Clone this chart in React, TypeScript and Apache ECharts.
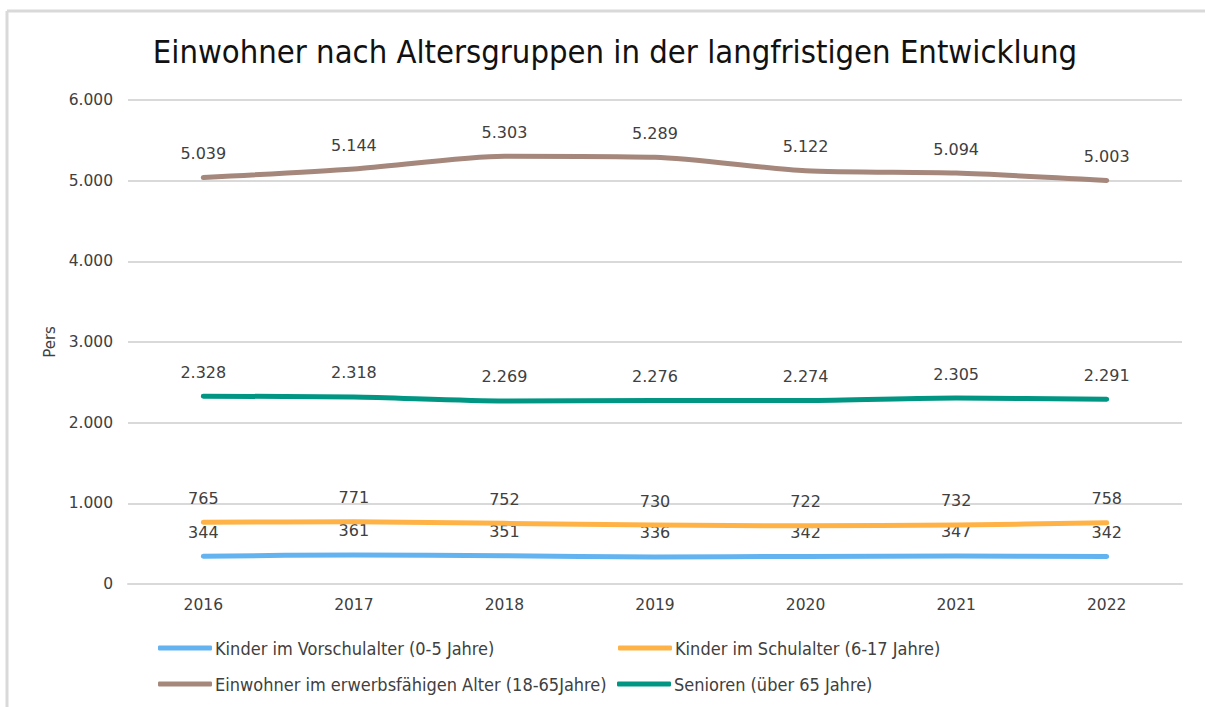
import React, { useEffect, useRef } from "react";
import * as echarts from "echarts";

const title = "Einwohner nach Altersgruppen in der langfristigen Entwicklung";
const years = ["2016", "2017", "2018", "2019", "2020", "2021", "2022"];
const yTicks = [0, 1000, 2000, 3000, 4000, 5000, 6000];
const seriesNames = [
  "Kinder im Vorschulalter (0-5 Jahre)",
  "Kinder im Schulalter (6-17 Jahre)",
  "Einwohner im erwerbsfähigen Alter (18-65Jahre)",
  "Senioren (über 65 Jahre)",
];
const vorschule = [344, 361, 351, 336, 342, 347, 342];
const schule = [765, 771, 752, 730, 722, 732, 758];
const erwerb = [5039, 5144, 5303, 5289, 5122, 5094, 5003];
const senioren = [2328, 2318, 2269, 2276, 2274, 2305, 2291];
const colors = ["#63b3f0", "#ffb347", "#a5877c", "#009683"];

const fmt = (v: number) => {
  const s = String(Math.round(v));
  return s.replace(/\B(?=(\d{3})+(?!\d))/g, ".");
};

export default function App() {
  const ref = useRef<HTMLDivElement>(null);
  useEffect(() => {
    document.body.style.margin = "0";
    if (!ref.current) return;
    const chart = echarts.init(ref.current, undefined, { renderer: "svg" });
    const font = "DejaVu Sans, Verdana, sans-serif";
    const cond = "DejaVu Sans Condensed, DejaVu Sans, sans-serif";
    const data = [vorschule, schule, erwerb, senioren];
    const legendPos = [
      { left: 158, top: 639 },
      { left: 618, top: 639 },
      { left: 158, top: 675 },
      { left: 617, top: 675 },
    ];
    chart.setOption({
      animation: false,
      backgroundColor: "#ffffff",
      title: {
        text: title,
        left: 610,
        textAlign: "center",
        top: 30,
        textStyle: { fontFamily: cond, fontSize: 32.5, fontWeight: "normal", color: "#111111" },
      },
      legend: seriesNames.map((n, i) => ({
        data: [n],
        left: legendPos[i].left,
        top: legendPos[i].top,
        icon: "roundRect",
        itemWidth: 54,
        itemHeight: 5,
        itemGap: 0,
        padding: 0,
        textStyle: { fontFamily: cond, fontSize: 18, color: "#404040", padding: [0, 0, 0, -2] },
      })),
      grid: { left: 128, right: 24, top: 100, bottom: 123 },
      xAxis: {
        type: "category",
        data: years,
        boundaryGap: true,
        axisLine: { lineStyle: { color: "#d9d9d9", width: 2 } },
        axisTick: { show: false },
        axisLabel: { margin: 13, fontFamily: font, fontSize: 15.5, color: "#404040" },
      },
      yAxis: {
        type: "value",
        min: yTicks[0],
        max: yTicks[yTicks.length - 1],
        interval: 1000,
        name: "Pers",
        nameLocation: "middle",
        nameRotate: 90,
        nameGap: 61,
        nameTextStyle: { fontFamily: font, fontSize: 15, color: "#404040" },
        axisLine: { show: false },
        axisTick: { show: false },
        splitLine: { lineStyle: { color: "#d9d9d9", width: 2 } },
        axisLabel: { margin: 15, fontFamily: font, fontSize: 15.5, color: "#404040", formatter: (v: number) => fmt(v) },
      },
      series: seriesNames.map((n, i) => ({
        name: n,
        type: "line",
        data: data[i],
        smooth: 0.25,
        symbol: "circle",
        symbolSize: 0.1,
        showSymbol: true,
        color: colors[i],
        itemStyle: { color: colors[i] },
        lineStyle: { width: 5, color: colors[i], cap: "round", join: "round" },
        label: {
          show: true,
          position: "top",
          distance: 16,
          fontFamily: font,
          fontSize: 16,
          color: "#404040",
          formatter: (p: any) => fmt(p.value),
        },
        z: 2 + i,
      })),
      graphic: [
        { type: "line", shape: { x1: 7, y1: 11, x2: 1205, y2: 11 }, style: { stroke: "#d9d9d9", lineWidth: 3 } },
        { type: "line", shape: { x1: 7, y1: 11, x2: 7, y2: 707 }, style: { stroke: "#d9d9d9", lineWidth: 3 } },
      ],
    });
    return () => chart.dispose();
  }, []);
  return <div ref={ref} style={{ width: 1206, height: 707 }} />;
}
